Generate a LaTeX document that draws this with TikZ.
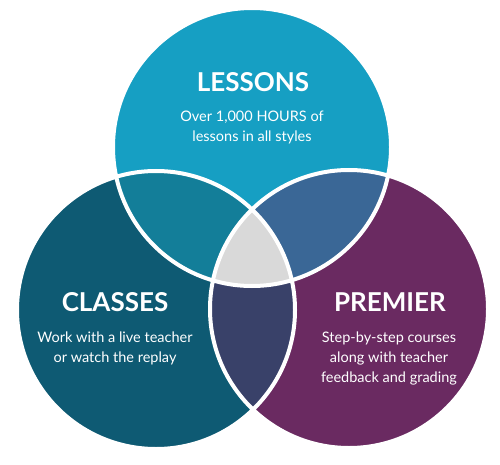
\documentclass[tikz,border=0pt]{standalone}
\usepackage{fontspec}
\setmainfont{Lato}
\definecolor{cTop}{HTML}{169FC3}
\definecolor{cLeft}{HTML}{0E5A73}
\definecolor{cRight}{HTML}{6A2A61}
\definecolor{cTL}{HTML}{137E99}
\definecolor{cTR}{HTML}{3A6796}
\definecolor{cLR}{HTML}{394169}
\definecolor{cMid}{HTML}{D9D9D9}
\tikzset{
  title/.style={text=white, font=\fontsize{26}{30}\selectfont\bfseries, anchor=center, inner sep=0pt},
  body/.style={text=white, font=\fontsize{14.5}{20}\selectfont, align=center, anchor=center},
}
\begin{document}
\begin{tikzpicture}[x=1pt,y=-1pt]
\useasboundingbox (0,0) rectangle (500,465);
\def\R{139}
\coordinate (T) at (252,147);
\coordinate (L) at (156,310);
\coordinate (P) at (349,309);
\fill[cTop] (T) circle (\R);
\fill[cLeft] (L) circle (\R);
\fill[cRight] (P) circle (\R);
\begin{scope}
  \clip (T) circle (\R);
  \fill[cTL] (L) circle (\R);
  \fill[cTR] (P) circle (\R);
\end{scope}
\begin{scope}
  \clip (L) circle (\R);
  \fill[cLR] (P) circle (\R);
  \clip (P) circle (\R);
  \fill[cMid] (T) circle (\R);
\end{scope}
\draw[white, line width=4pt] (T) circle (\R) (L) circle (\R) (P) circle (\R);
\node[title] (t1) at (253,82.5) {LESSONS};
\node[body] (b1) at (252,127) {Over 1,000 HOURS of\\lessons in all styles};
\node[title] (t2) at (115,302) {CLASSES};
\node[body] (b2) at (115,348) {Work with a live teacher\\or watch the replay};
\node[title] (t3) at (390,302) {PREMIER};
\node[body] (b3) at (389,358) {Step-by-step courses\\along with teacher\\feedback and grading};
\end{tikzpicture}
\end{document}
